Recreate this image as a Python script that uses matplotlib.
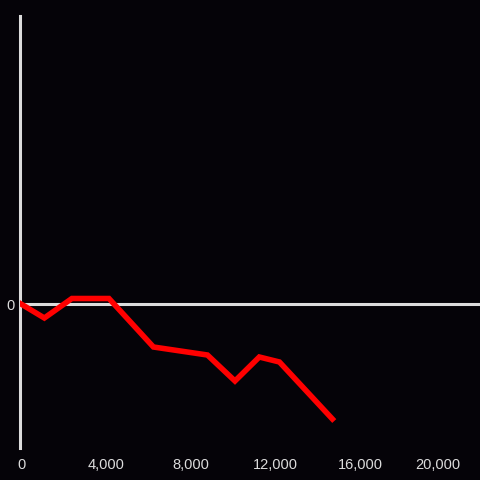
import matplotlib.pyplot as plt
import matplotlib.transforms as mtransforms
from matplotlib.ticker import FuncFormatter

# valores
x_vals = [0, 1100, 2400, 4150, 6250, 8800, 10100, 11250, 12200, 14700]
y_vals = [0, -14, 5.5, 5.5, -43, -51, -77, -53, -58, -115]
x_ticks = [0, 4000, 8000, 12000, 16000, 20000]

bg = '#050308'
cinza = '#dcdcdc'

fig = plt.figure(figsize=(4.8, 4.8), dpi=100, facecolor=bg)
ax = fig.add_axes([20 / 480, 32 / 480, 460 / 480, 432 / 480], facecolor=bg)

ax.plot(x_vals, y_vals, color='#ff0000', linewidth=4, solid_joinstyle='miter', zorder=3)
ax.axhline(0, color=cinza, linewidth=2.2, zorder=2)

ax.set_xlim(-50, 21670)
ax.set_ylim(-144, 288)

for s in ['top', 'right', 'bottom']:
    ax.spines[s].set_visible(False)
ax.spines['left'].set_color(cinza)
ax.spines['left'].set_linewidth(2.2)

ax.set_xticks(x_ticks)
ax.xaxis.set_major_formatter(FuncFormatter(lambda v, p: f'{int(v):,}'))
ax.set_yticks([0])
ax.tick_params(axis='both', length=0, colors=cinza, labelsize=10.5)
ax.tick_params(axis='x', pad=7)
ax.tick_params(axis='y', pad=4)
for lbl in ax.get_xticklabels() + ax.get_yticklabels():
    lbl.set_fontfamily('Liberation Sans')

# ultimo rotulo fica um pouco para dentro, como no original
ultimo = ax.get_xticklabels()[-1]
ultimo.set_transform(ultimo.get_transform() +
                     mtransforms.ScaledTranslation(-7 / 100, 0, fig.dpi_scale_trans))

fig.savefig('out.png', dpi=100, facecolor=bg)
